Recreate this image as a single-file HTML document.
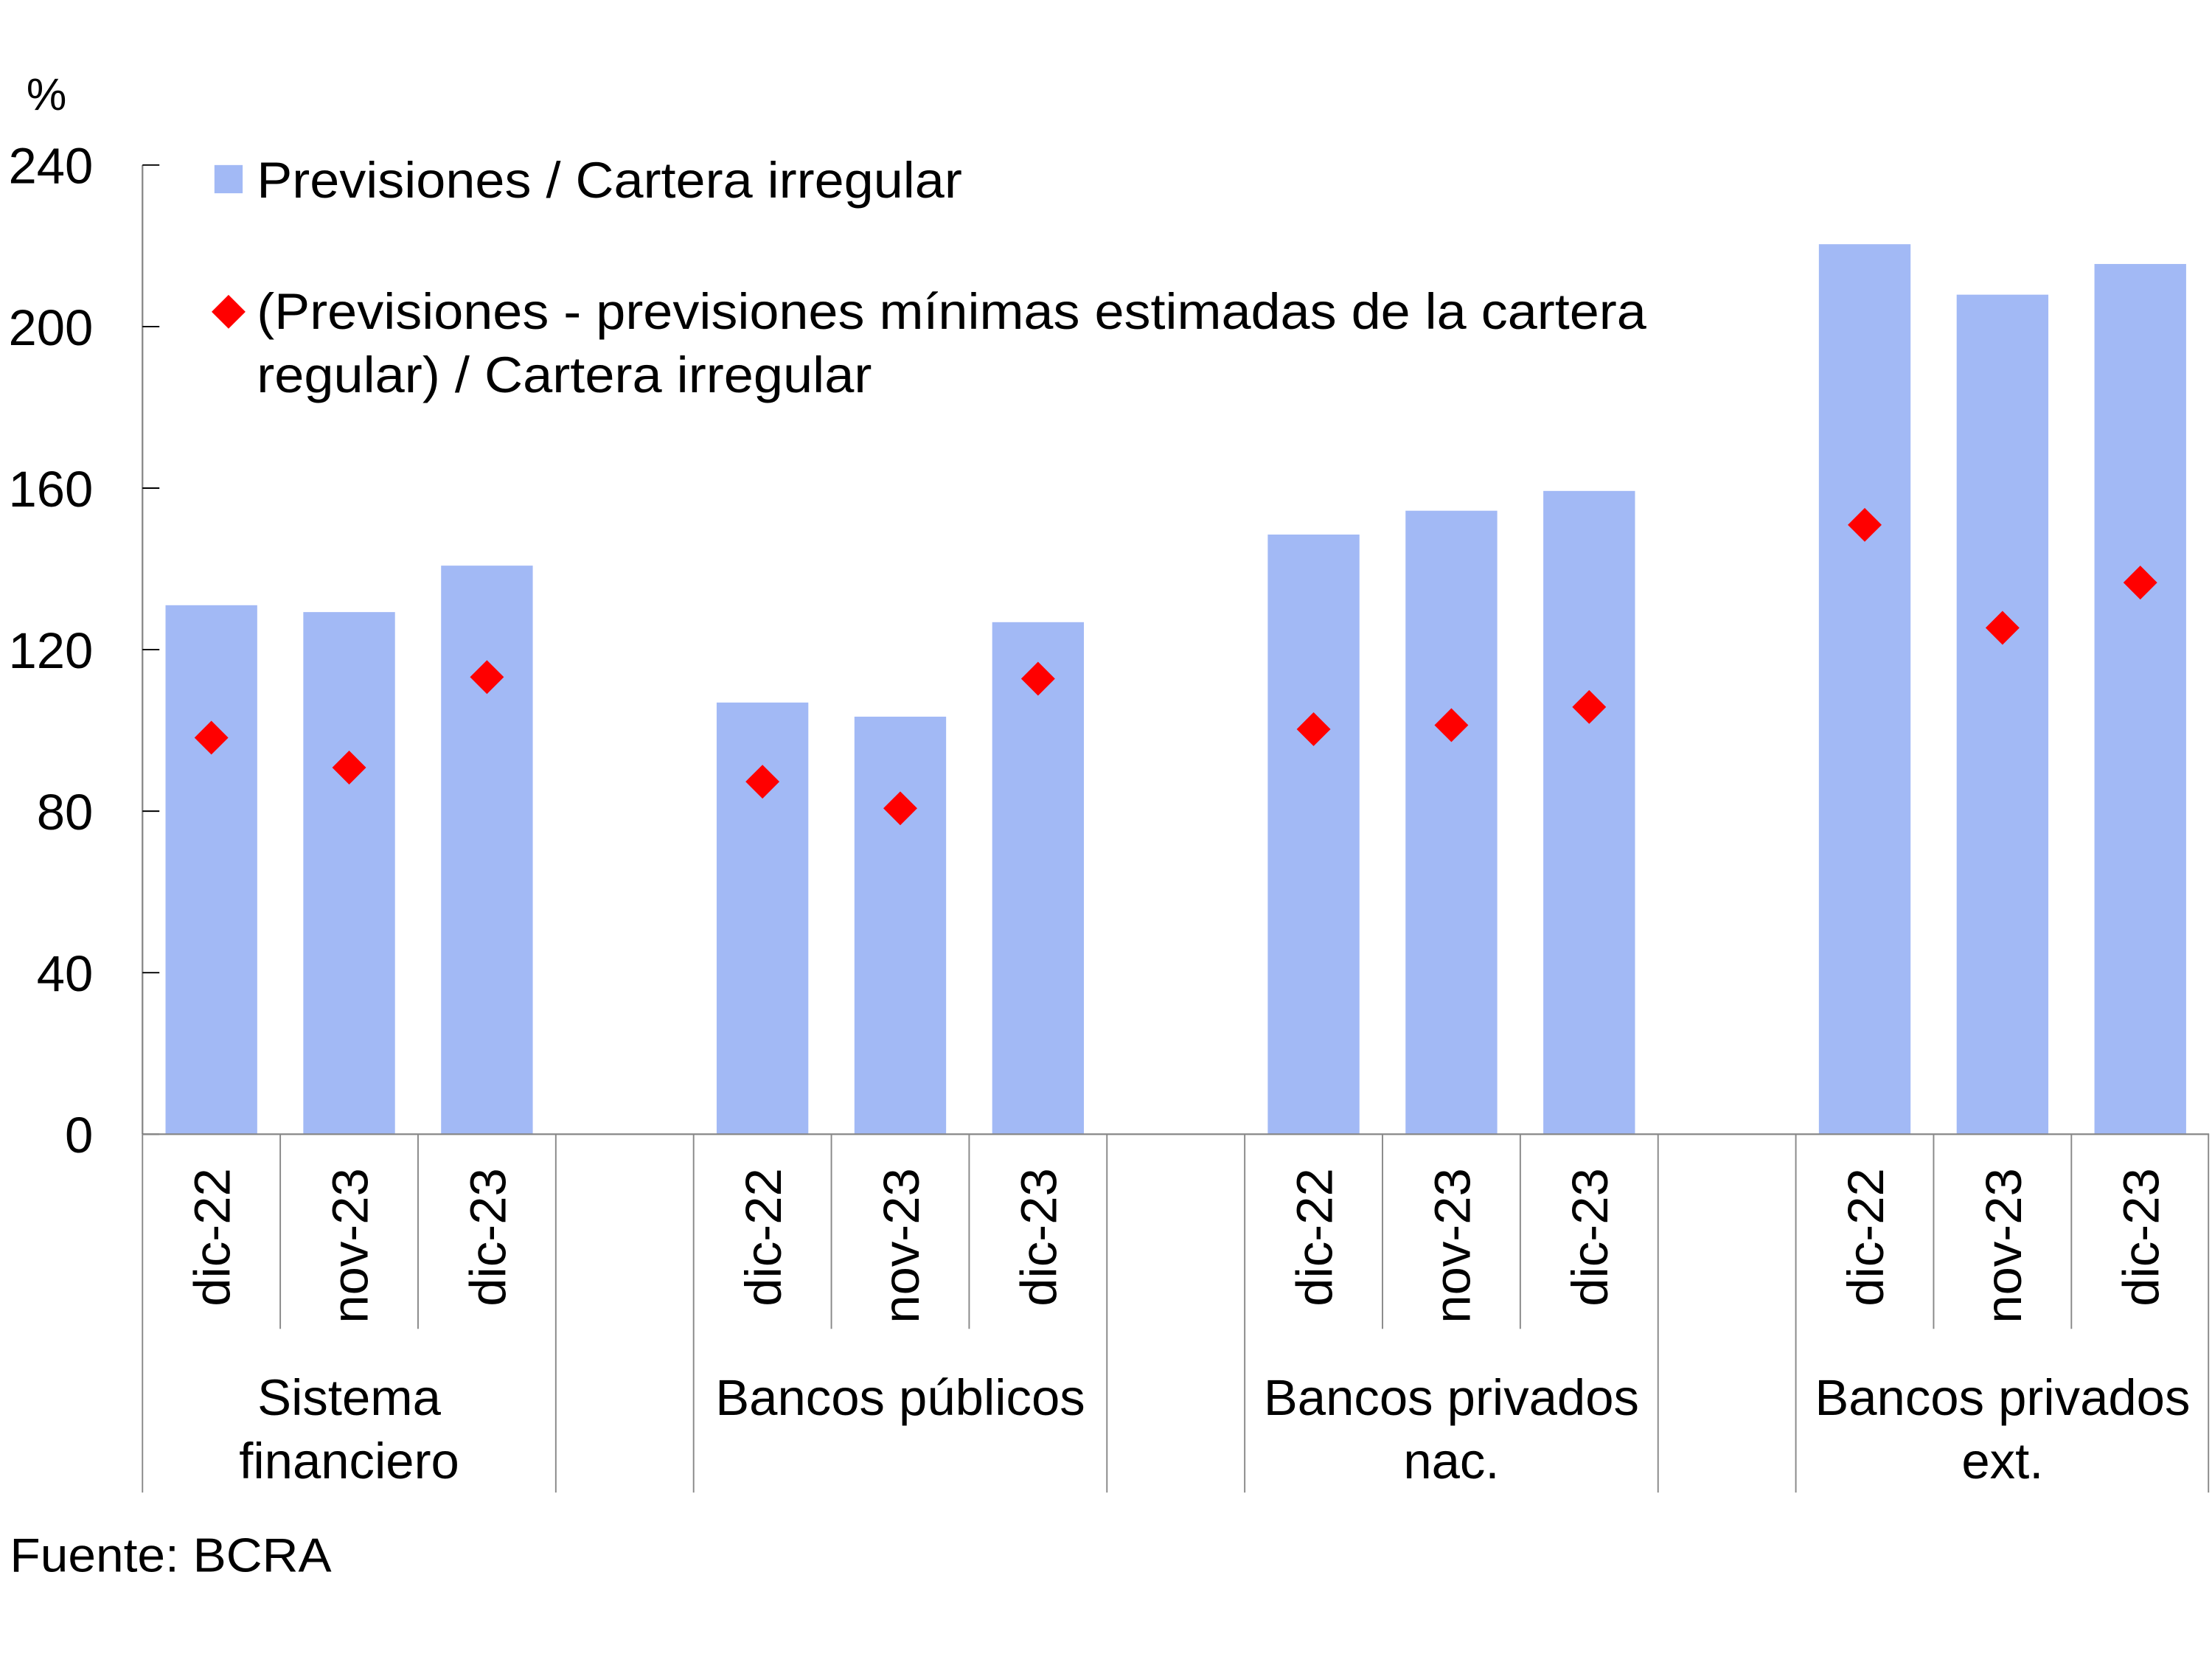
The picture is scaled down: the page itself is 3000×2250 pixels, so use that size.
<!DOCTYPE html>
<html><head><meta charset="utf-8"><style>
html,body{margin:0;padding:0;background:#fff;}
svg{display:block;font-family:"Liberation Sans",sans-serif;}
</style></head><body>
<svg id="chart" width="3000" height="2250" viewBox="0 0 1568 1176" preserveAspectRatio="none" xmlns="http://www.w3.org/2000/svg">
<text x="33" y="78" font-size="32" text-anchor="middle">%</text>
<g id="yaxis"></g>
<g id="bars"></g>
<g id="points"></g>
<g id="xaxis"></g>
<g>
<rect x="152" y="117" width="20" height="20" fill="#a2b9f5"/>
<text x="182" y="140" font-size="36" textLength="500" lengthAdjust="spacingAndGlyphs">Previsiones / Cartera irregular</text>
<path d="M162 209 L174 221 L162 233 L150 221 Z" fill="#ff0000"/>
<text x="182" y="233" font-size="36" textLength="985" lengthAdjust="spacingAndGlyphs">(Previsiones - previsiones mínimas estimadas de la cartera</text>
<text x="182" y="278" font-size="36" textLength="436" lengthAdjust="spacingAndGlyphs">regular) / Cartera irregular</text>
</g>
<text x="7" y="1114" font-size="34" textLength="228" lengthAdjust="spacingAndGlyphs">Fuente: BCRA</text>
</svg>
<script>
const groups = ["Sistema|financiero", "Bancos públicos", "Bancos privados|nac.", "Bancos privados|ext."];
const periods = ["dic-22", "nov-23", "dic-23"];
const barValues = [131, 129.3, 140.8, 106.9, 103.4, 126.8, 148.5, 154.4, 159.3, 220.4, 207.9, 215.5];
const pointValues = [98.2, 90.8, 113.2, 87.3, 80.7, 112.8, 100.3, 101.3, 105.8, 150.9, 125.4, 136.6];
const yTicks = [0, 40, 80, 120, 160, 200, 240];

const NS = "http://www.w3.org/2000/svg";
const X0 = 101, X1 = 1566, Y0 = 804, Ytop = 117, YMAX = 240;
const slotW = (X1 - X0) / 15;
function y(v){ return Y0 - v / YMAX * (Y0 - Ytop); }
function slotIndex(i){ return Math.floor(i/3)*4 + (i%3); }
function xc(i){ return X0 + (slotIndex(i) + 0.5) * slotW; }
function mk(tag, attrs, parent){ const e = document.createElementNS(NS, tag); for (const k in attrs) e.setAttribute(k, attrs[k]); parent.appendChild(e); return e; }

const yaxis = document.getElementById('yaxis');
const ax = mk('line', {x1:X0, y1:Ytop, x2:X0, y2:Y0, stroke:'#888', 'stroke-width':1.2}, yaxis);


yTicks.forEach(t => {
  const tk = mk('line', {x1:X0, y1:y(t), x2:X0+12, y2:y(t), stroke:'#000', 'stroke-width':1}, yaxis);
  
  
  const s = String(t);
  const attrs = {x:66, y:y(t)+13, 'font-size':36, 'text-anchor':'end'};
  if (s.length > 1) { attrs.textLength = s.length * 20; attrs.lengthAdjust = 'spacingAndGlyphs'; }
  const tx = mk('text', attrs, yaxis);
  tx.textContent = s;
  
  
});

const bars = document.getElementById('bars');
barValues.forEach((v, i) => {
  const r = mk('rect', {x:xc(i)-32.5, y:y(v), width:65, height:Y0-y(v), fill:'#a2b9f5'}, bars);
  
  
});
const pts = document.getElementById('points');
pointValues.forEach((v, i) => {
  const cx = xc(i), cy = y(v);
  const p = mk('path', {d:`M${cx} ${cy-12} L${cx+12} ${cy} L${cx} ${cy+12} L${cx-12} ${cy} Z`, fill:'#ff0000'}, pts);
  
  
});

const xaxis = document.getElementById('xaxis');
const xl = mk('line', {x1:X0, y1:Y0, x2:X1, y2:Y0, stroke:'#888', 'stroke-width':1.2}, xaxis);


for (let s = 0; s <= 15; s++) {
  const xx = Math.min(X0 + s*slotW, X1-0.5);
  const groupEdge = (s % 4 === 0) || (s % 4 === 3) || s === 15;
  const l = mk('line', {x1:xx, y1:Y0, x2:xx, y2: groupEdge ? 1058 : 942, stroke:'#888', 'stroke-width':1}, xaxis);
  
  
}
barValues.forEach((v, i) => {
  const cx = xc(i);
  const t = mk('text', {x:0, y:0, 'font-size':36, 'text-anchor':'end', transform:`translate(${cx+13},828) rotate(-90)`}, xaxis);
  t.textContent = periods[i % 3];
  
  
});
groups.forEach((g, gi) => {
  const cx = X0 + (gi*4 + 1.5) * slotW;
  g.split('|').forEach((line, li) => {
    const t = mk('text', {x:cx, y:1003 + li*45, 'font-size':36, 'text-anchor':'middle'}, xaxis);
    t.textContent = line;
    
    
  });
});
</script>
</body></html>
